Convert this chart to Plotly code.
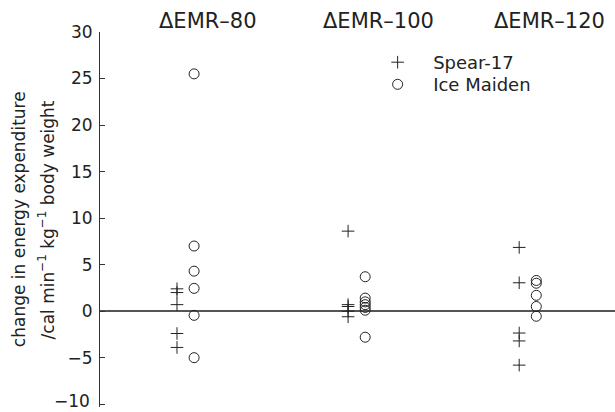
import plotly.graph_objects as go

groups = ["ΔEMR–80", "ΔEMR–100", "ΔEMR–120"]
group_pos = [1, 2, 3]

spear17 = [
    [2.4, 2.0, 0.7, -2.4, -3.9],
    [8.6, 0.7, 0.5, 0.0, -0.6],
    [6.85, 3.05, -2.35, -3.2, -5.8],
]
ice_maiden = [
    [25.5, 7.0, 4.3, 2.45, -0.45, -5.0],
    [3.7, 1.4, 1.0, 0.7, 0.4, 0.1, -2.8],
    [3.3, 3.0, 1.7, 0.5, -0.55],
]

yticks = [-10, -5, 0, 5, 10, 15, 20, 25, 30]
ytick_text = ["", "−5", "0", "5", "10", "15", "20", "25", "30"]
bottom_tick_label = "−10"

FONT = "DejaVu Sans"
INK = "#222222"
OFF = 0.05

fig = go.Figure()

xs, ys = [], []
for g, vals in zip(group_pos, spear17):
    xs += [g - OFF] * len(vals)
    ys += vals
fig.add_trace(go.Scatter(
    x=xs, y=ys, mode="markers", name="Spear-17", legend="legend",
    marker=dict(symbol="cross-thin-open", size=9, color=INK,
                line=dict(color=INK, width=1)),
))

xs, ys = [], []
for g, vals in zip(group_pos, ice_maiden):
    xs += [g + OFF] * len(vals)
    ys += vals
fig.add_trace(go.Scatter(
    x=xs, y=ys, mode="markers", name="Ice Maiden", legend="legend2",
    marker=dict(symbol="circle-open", size=10, color=INK,
                line=dict(color=INK, width=1)),
))

for g, label in zip(group_pos, groups):
    fig.add_annotation(x=g + 0.13, y=1, xref="x", yref="paper",
                       text=label, showarrow=False, yanchor="bottom",
                       yshift=-3,
                       font=dict(family=FONT, size=21, color=INK))

# bottom tick label (plotly hides it at the figure edge)
fig.add_annotation(x=0, y=yticks[0], xref="paper", yref="y",
                   text=bottom_tick_label, showarrow=False, borderpad=0,
                   xanchor="right", yanchor="bottom", xshift=-9, yshift=-8,
                   font=dict(family=FONT, size=17, color=INK))

fig.add_annotation(x=-0.158, y=0.5, xref="paper", yref="paper",
                   text="change in energy expenditure", textangle=-90,
                   showarrow=False, xanchor="center", yanchor="middle",
                   font=dict(family=FONT, size=17, color=INK))
fig.add_annotation(x=-0.105, y=0.5, xref="paper", yref="paper",
                   text="/cal min<sup>−1</sup> kg<sup>−1</sup> body weight",
                   textangle=-90,
                   showarrow=False, xanchor="center", yanchor="middle",
                   font=dict(family=FONT, size=17, color=INK))

leg_common = dict(xanchor="left", yanchor="top", bgcolor="rgba(0,0,0,0)",
                  font=dict(family=FONT, size=18, color=INK), itemwidth=61)

fig.update_layout(
    width=615, height=412,
    margin=dict(l=100, r=0, t=32, b=5),
    paper_bgcolor="white", plot_bgcolor="white",
    font=dict(family=FONT, size=17, color=INK),
    showlegend=True,
    legend=dict(x=0.509, y=0.968, **leg_common),
    legend2=dict(x=0.509, y=0.909, **leg_common),
    xaxis=dict(range=[0.5, 3.51], showline=False, showticklabels=False,
               ticks="", showgrid=False, zeroline=False, automargin=False),
    yaxis=dict(range=[-10.3, 30], tickvals=yticks, ticktext=ytick_text,
               ticks="inside", ticklen=5,
               tickcolor="#333", showline=True, linecolor="#333", linewidth=1,
               showgrid=False, zeroline=True, zerolinecolor="#555",
               zerolinewidth=1.5, ticklabelstandoff=3, automargin=False,
               tickfont=dict(family=FONT, size=17, color=INK)),
)

fig.write_html("out.html", config={"displayModeBar": False},
               post_script="document.body.style.margin='0';")
